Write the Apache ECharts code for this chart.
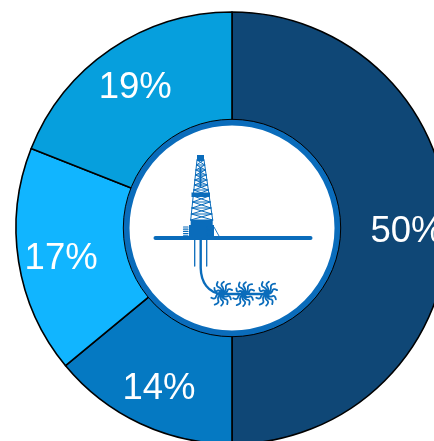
<!DOCTYPE html>
<html><head><meta charset="utf-8">
<style>html,body{margin:0;padding:0;background:#fff}#c{width:434px;height:441px}</style>
<script src="https://cdn.jsdelivr.net/npm/echarts@6/dist/echarts.min.js"></script>
</head><body><div id="c"></div>
<script>
const labels = ['50%', '14%', '17%', '19%'];
const values = [50, 14, 17, 19];
const colors = ['#0F4776', '#0579C2', '#11B5FF', '#069FDD'];
const iconBlue = '#0A6CBB';
const cx = 232, cy = 228;

const chart = echarts.init(document.getElementById('c'), null, {renderer: 'canvas'});
const slices = values.map((v, i) => ({value: v, name: labels[i], itemStyle: {color: colors[i]}}));
const labelSlices = values.map((v, i) => ({value: v, name: labels[i]}));

const g = [];
let shapeCount = 0;
function addPath(d, style) {
  const name = 'iconPath' + (shapeCount++);
  echarts.graphic.registerShape(name, echarts.graphic.extendPath(d, {}));
  g.push({type: name, z: 20, silent: true, style});
}
const P = (d, width) => addPath(d, {fill: 'none', stroke: iconBlue, lineWidth: width, lineCap: 'round', lineJoin: 'round'});
const F = (d) => addPath(d, {fill: iconBlue, stroke: 'none'});

// hub
g.push({type: 'circle', z: 10, silent: true, shape: {cx, cy, r: 105.5},
  style: {fill: '#fff', stroke: iconBlue, lineWidth: 6}});
g.push({type: 'circle', z: 11, silent: true, shape: {cx, cy, r: 108.7},
  style: {fill: 'none', stroke: '#000', lineWidth: 1}});

// ground and wells
P('M155.5 238 L310.5 238', 4);
P('M194.7 240 L194.7 266', 1.3);
P('M206.7 240 L206.7 266', 1.3);
P('M200.7 240 L200.7 268 C201 282 208 293 222 294 L267 294', 2.4);

// derrick body
const xL = y => 190.7 + (220 - y) * 6.3 / 60;
const xR = y => 212.7 - (220 - y) * 8.7 / 60;
let lattice = `M${xL(220)} 220 L${xL(160)} 160 M${xR(220)} 220 L${xR(160)} 160 `;
const levels = [220, 214, 208, 202, 196, 190, 185, 180, 175, 170, 165, 160];
for (let i = 0; i < levels.length - 1; i++) {
  const a = levels[i], b = levels[i + 1];
  lattice += `M${xL(a)} ${a} L${xR(a)} ${a} M${xL(a)} ${a} L${xR(b)} ${b} M${xR(a)} ${a} L${xL(b)} ${b} `;
}
P(lattice, 1);
P('M200.5 168 L200.5 186', 2);
F('M191.5 192.5 L210 192.5 L210 197 L191.5 197 Z');
F('M197 155 L204 155 L204 161 L197 161 Z');
F('M190.7 220 L212.7 220 L212.7 225 L214 225 L214 237 L189 237 L189 225 L190.7 225 Z');
// skids
let skid = '';
for (let y = 227; y < 236; y += 2.2) skid += `M183.5 ${y} L188 ${y} M207.5 ${y} L212.5 ${y} `;
P(skid, 1.2);
P('M214 227 L219 236', 0.9);

// fracture clusters
const arms = [
  [-85, 12], [-55, 13], [-115, 12], [-25, 11], [-150, 9],
  [85, 12], [115, 13], [55, 12], [150, 11], [25, 11]
];
function cluster(x, y) {
  let d = '';
  arms.forEach(([deg, len]) => {
    const a = deg * Math.PI / 180, ux = Math.cos(a), uy = Math.sin(a), nx = -uy, ny = ux;
    const pt = (t, n) => `${(x + ux * len * t + nx * n).toFixed(1)} ${(y + uy * len * t + ny * n).toFixed(1)}`;
    d += `M${x} ${y} Q${pt(0.3, 2.8)} ${pt(0.55, 0.4)} Q${pt(0.75, -2.6)} ${pt(1, 1.4)} `;
  });
  P(d, 1.8);
  g.push({type: 'circle', z: 20, silent: true, shape: {cx: x, cy: y, r: 3}, style: {fill: iconBlue}});
}
cluster(221.5, 293.5); cluster(243.5, 294); cluster(266.5, 293.5);

chart.setOption({
  animation: false,
  backgroundColor: '#fff',
  series: [
    {type: 'pie', center: [cx, cy], radius: [90, 216], startAngle: 90, clockwise: true,
     silent: true, label: {show: false}, labelLine: {show: false},
     itemStyle: {borderColor: '#000', borderWidth: 1.6}, data: slices, z: 2},
    {type: 'pie', center: [cx + 1, cy + 3.5], radius: [126, 216], startAngle: 90, clockwise: true,
     silent: true, labelLine: {show: false},
     itemStyle: {color: 'transparent', borderWidth: 0},
     label: {show: true, position: 'inside', formatter: '{b}', color: '#fff',
             fontFamily: '"Liberation Sans", Arial, sans-serif', fontSize: 36.5, fontWeight: 'normal',
             textBorderWidth: 0, textShadowBlur: 0},
     data: labelSlices, z: 3}
  ],
  graphic: g
});
</script></body></html>
